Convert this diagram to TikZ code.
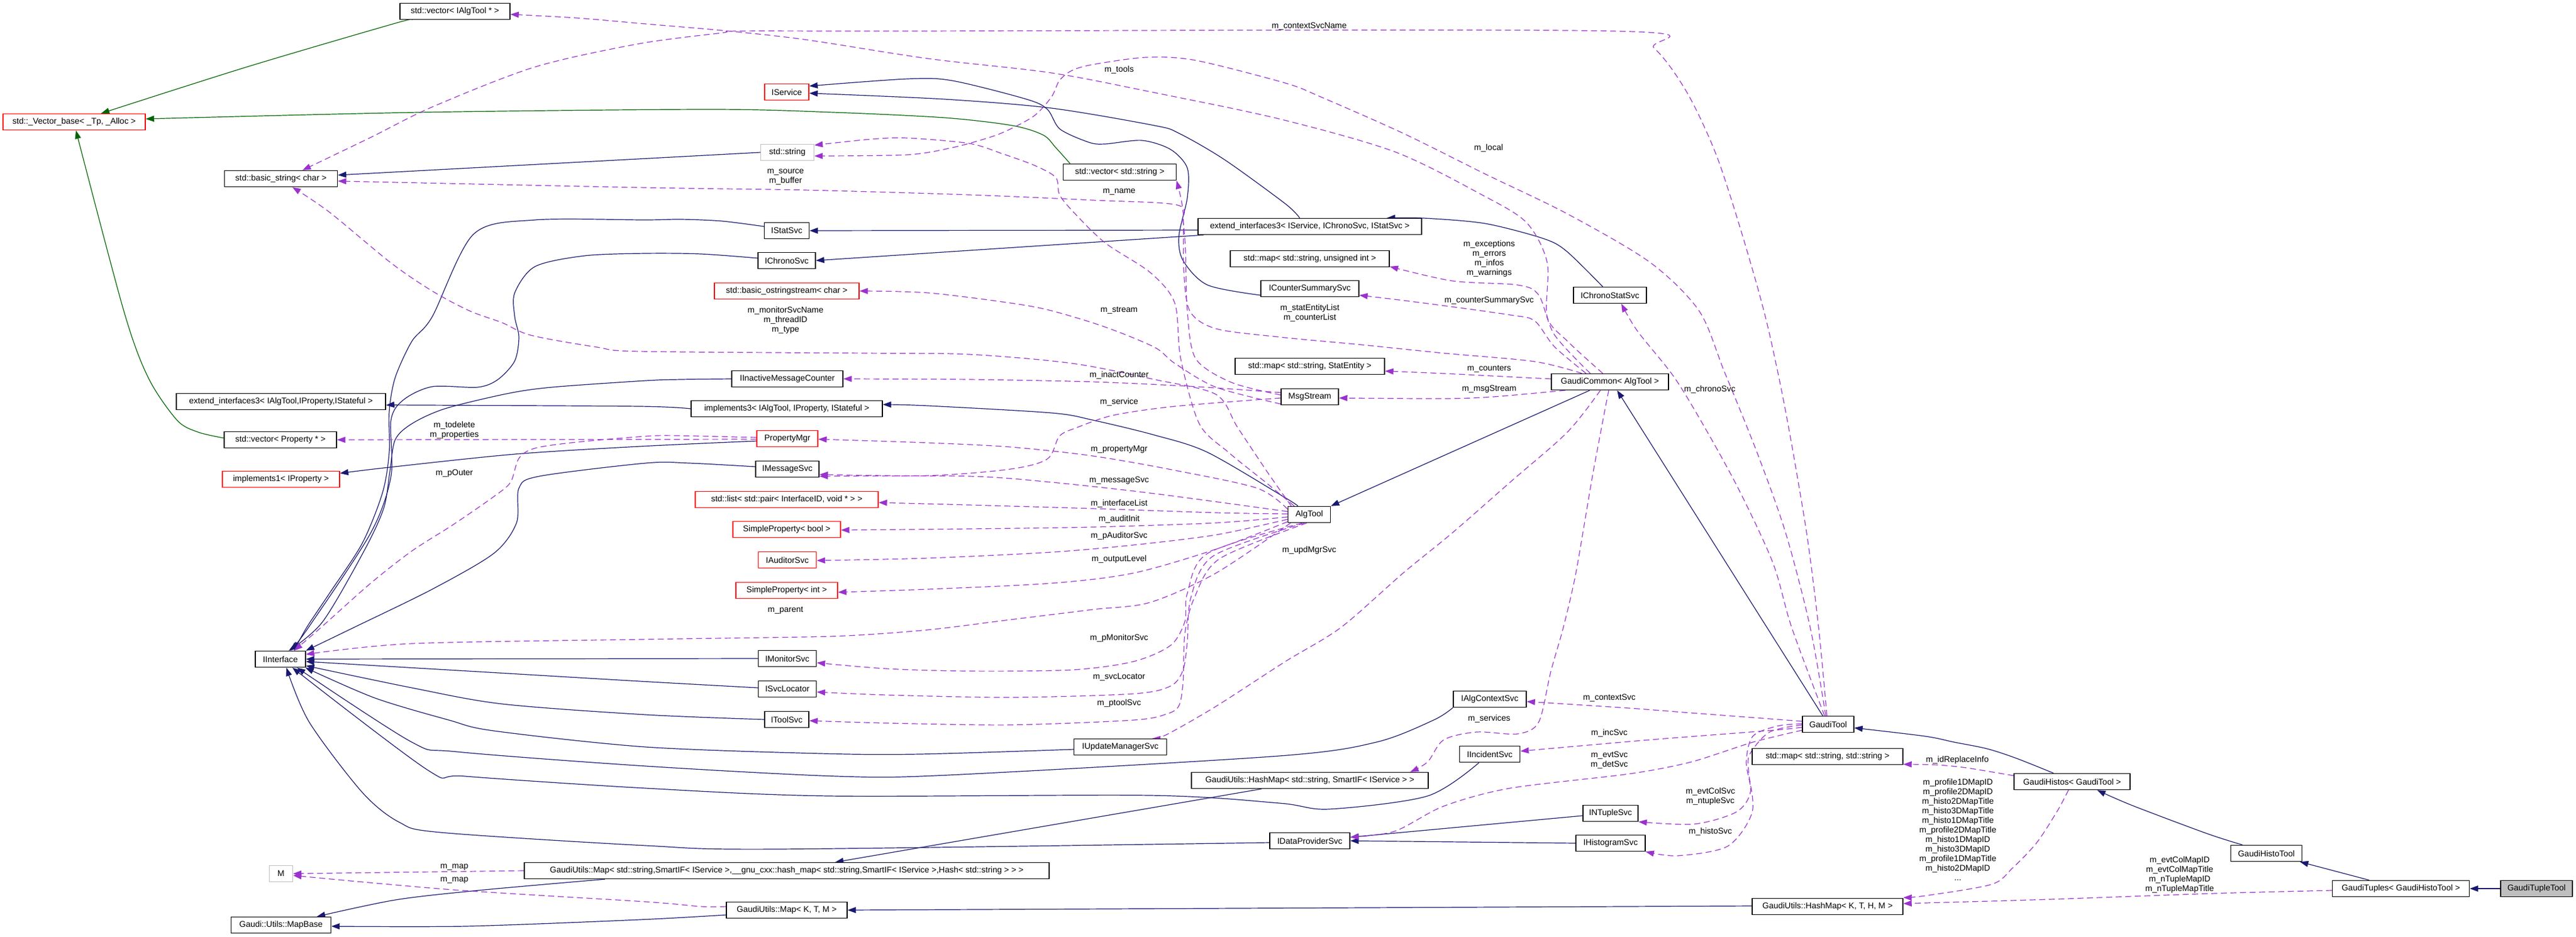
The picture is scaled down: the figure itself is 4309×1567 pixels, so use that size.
\documentclass[tikz,border=0pt]{standalone}
\usepackage{tikz}
\usepackage{fontspec}
\setmainfont{Liberation Sans}
\usetikzlibrary{arrows.meta}
\definecolor{inhc}{HTML}{191970}
\definecolor{protc}{HTML}{006400}
\definecolor{usec}{HTML}{9A32CD}
\definecolor{grayc}{HTML}{BFBFBF}
\pgfdeclarelayer{bglayer}
\pgfdeclarelayer{edgelayer}
\pgfsetlayers{bglayer,edgelayer,main}
\begin{document}
\begin{tikzpicture}[x=1pt,y=-1pt,
  every node/.style={font=\fontsize{14}{16}\selectfont, text=black},
  box/.style={draw=black, line width=1.4pt, fill=white, minimum width=#1pt, minimum height=27pt, inner sep=0pt},
  rbox/.style={box=#1, draw=red},
  gbox/.style={box=#1, draw=grayc},
  lbl/.style={align=center, inner sep=0pt},
  tip/.style={-{Triangle[length=14pt,width=10pt]}},
  inh/.style={draw=inhc, line width=1.2pt, tip},
  prot/.style={draw=protc, line width=1.2pt, tip},
  use/.style={draw=usec, line width=1.2pt, dash pattern=on 10pt off 6pt, tip},
  sm/.style={smooth, tension=0.5}
]
\begin{pgfonlayer}{bglayer}
\fill[white] (0,0) rectangle (4309,1567);
\end{pgfonlayer}
\useasboundingbox (0,0) rectangle (4309,1567);

% ---------------- nodes ----------------
\node[box=184] (vIAT) at (761,19) {std::vector< IAlgTool * >};
\node[rbox=238] (vbase) at (124,204) {std::\_Vector\_base< \_Tp, \_Alloc >};
\node[box=189] (bstr) at (470,299) {std::basic\_string< char >};
\node[rbox=74] (isvc) at (1316,154) {IService};
\node[gbox=89] (sstr) at (1317,255) {std::string};
\node[box=189] (vstr) at (1873,288) {std::vector< std::string >};
\node[box=374] (ext3s) at (2191,379) {extend\_interfaces3< IService, IChronoSvc, IStatSvc >};
\node[box=75] (istat) at (1316,386) {IStatSvc};
\node[box=96] (ichrono) at (1316,436) {IChronoSvc};
\node[rbox=242] (ostr) at (1316,487) {std::basic\_ostringstream< char >};
\node[box=266] (mapui) at (2191,433) {std::map< std::string, unsigned int >};
\node[box=164] (icsum) at (2191,483) {ICounterSummarySvc};
\node[box=122] (ichst) at (2693,494) {IChronoStatSvc};
\node[box=350] (ext3a) at (470,672) {extend\_interfaces3< IAlgTool,IProperty,IStateful >};
\node[box=188] (vprop) at (469,736) {std::vector< Property * >};
\node[rbox=196] (impl1) at (470,802) {implements1< IProperty >};
\node[box=186] (iimc) at (1317,634) {IInactiveMessageCounter};
\node[box=320] (impl3) at (1316,684) {implements3< IAlgTool, IProperty, IStateful >};
\node[rbox=102] (pmgr) at (1317,734) {PropertyMgr};
\node[box=106] (imsg) at (1317,785) {IMessageSvc};
\node[rbox=306] (ilist) at (1316,836) {std::list< std::pair< InterfaceID, void * > >};
\node[rbox=180] (spbool) at (1316,886) {SimpleProperty< bool >};
\node[rbox=97] (iaud) at (1317,937) {IAuditorSvc};
\node[rbox=170] (spint) at (1316,988) {SimpleProperty< int >};
\node[box=250] (mapse) at (2191,613) {std::map< std::string, StatEntity >};
\node[box=96] (msgs) at (2191,664) {MsgStream};
\node[box=196] (gcom) at (2693,639) {GaudiCommon< AlgTool >};
\node[box=71] (algt) at (2190,861) {AlgTool};
\node[box=84] (iint) at (469,1103) {IInterface};
\node[gbox=39] (mM) at (470,1462) {M};
\node[box=167] (mapb) at (470,1548) {Gaudi::Utils::MapBase};
\node[box=878] (gmaps) at (1316,1457) {GaudiUtils::Map< std::string,SmartIF< IService >,\_\_gnu\_cxx::hash\_map< std::string,SmartIF< IService >,Hash< std::string > > >};
\node[box=97] (imon) at (1317,1102) {IMonitorSvc};
\node[box=97] (isl) at (1317,1153) {ISvcLocator};
\node[box=74] (itool) at (1316,1204) {IToolSvc};
\node[box=155] (iupd) at (1874,1250) {IUpdateManagerSvc};
\node[box=396] (ghms) at (2191,1306) {GaudiUtils::HashMap< std::string, SmartIF< IService > >};
\node[box=202] (gmapk) at (1316,1523) {GaudiUtils::Map< K, T, M >};
\node[box=134] (idp) at (2191,1407) {IDataProviderSvc};
\node[box=122] (iac) at (2492,1170) {IAlgContextSvc};
\node[box=101] (iinc) at (2492,1262) {IIncidentSvc};
\node[box=92] (intup) at (2694,1361) {INTupleSvc};
\node[box=116] (ihist) at (2694,1411) {IHistogramSvc};
\node[box=86] (gtool) at (3058,1212) {GaudiTool};
\node[box=252] (mapss) at (3057,1266) {std::map< std::string, std::string >};
\node[box=252] (ghmk) at (3057,1517) {GaudiUtils::HashMap< K, T, H, M >};
\node[box=194] (ghist) at (3466,1308) {GaudiHistos< GaudiTool >};
\node[box=119] (ghtool) at (3791,1428) {GaudiHistoTool};
\node[box=229] (gtup) at (4016,1487) {GaudiTuples< GaudiHistoTool >};
\node[box=120, fill=grayc] (gtt) at (4243,1487) {GaudiTupleTool};

% ---------------- labels ----------------
\node[lbl] (l1) at (1872,117) {m\_tools};
\node[lbl] (l2) at (2190,44) {m\_contextSvcName};
\node[lbl] (l3) at (2490,248) {m\_local};
\node[lbl] (l4) at (1314,296) {m\_source\\m\_buffer};
\node[lbl] (l5) at (1872,321) {m\_name};
\node[lbl] (l6) at (2491,433) {m\_exceptions\\m\_errors\\m\_infos\\m\_warnings};
\node[lbl] (l7) at (2491,503) {m\_counterSummarySvc};
\node[lbl] (l8) at (1314,536) {m\_monitorSvcName\\m\_threadID\\m\_type};
\node[lbl] (l9) at (1872,519) {m\_stream};
\node[lbl] (l10) at (2191,524) {m\_statEntityList\\m\_counterList};
\node[lbl] (l11) at (2491,617) {m\_counters};
\node[lbl] (l12) at (1872,628) {m\_inactCounter};
\node[lbl] (l13) at (2491,651) {m\_msgStream};
\node[lbl] (l14) at (2860,652) {m\_chronoSvc};
\node[lbl] (l15) at (1872,673) {m\_service};
\node[lbl] (l16) at (760,720) {m\_todelete\\m\_properties};
\node[lbl] (l17) at (1872,752) {m\_propertyMgr};
\node[lbl] (l18) at (760,792) {m\_pOuter};
\node[lbl] (l19) at (1872,804) {m\_messageSvc};
\node[lbl] (l20) at (1872,843) {m\_interfaceList};
\node[lbl] (l21) at (1872,869) {m\_auditInit};
\node[lbl] (l22) at (1872,897) {m\_pAuditorSvc};
\node[lbl] (l23) at (2190,921) {m\_updMgrSvc};
\node[lbl] (l24) at (1872,936) {m\_outputLevel};
\node[lbl] (l25) at (1314,1021) {m\_parent};
\node[lbl] (l26) at (1872,1068) {m\_pMonitorSvc};
\node[lbl] (l27) at (1872,1133) {m\_svcLocator};
\node[lbl] (l28) at (1872,1177) {m\_ptoolSvc};
\node[lbl] (l29) at (2692,1168) {m\_contextSvc};
\node[lbl] (l30) at (2491,1203) {m\_services};
\node[lbl] (l31) at (2692,1227) {m\_incSvc};
\node[lbl] (l32) at (2692,1272) {m\_evtSvc\\m\_detSvc};
\node[lbl] (l33) at (3274,1272) {m\_idReplaceInfo};
\node[lbl] (l34) at (2861,1333) {m\_evtColSvc\\m\_ntupleSvc};
\node[lbl] (l35) at (2861,1392) {m\_histoSvc};
\node[lbl] (l36) at (3275,1388) {m\_profile1DMapID\\m\_profile2DMapID\\m\_histo2DMapTitle\\m\_histo3DMapTitle\\m\_histo1DMapTitle\\m\_profile2DMapTitle\\m\_histo1DMapID\\m\_histo3DMapID\\m\_profile1DMapTitle\\m\_histo2DMapID\\...};
\node[lbl] (l37) at (3646,1464) {m\_evtColMapID\\m\_evtColMapTitle\\m\_nTupleMapID\\m\_nTupleMapTitle};
\node[lbl] (l38) at (760,1451) {m\_map};
\node[lbl] (l39) at (760,1473) {m\_map};

% ---------------- edges ----------------
\begin{pgfonlayer}{edgelayer}
% protected inheritance
\draw[prot] plot[sm] coordinates {([xshift=-72pt]vIAT.south) (661,39) (413,112) ([xshift=45pt]vbase.north)};
\draw[prot] plot[sm] coordinates {([xshift=-83pt]vstr.north) (1766,247) (1745,226) (1693,210) (1580,197) (1394,188) (1185,183) (700,188) ([yshift=5pt]vbase.east)};
\draw[prot] plot[sm] coordinates {([yshift=3pt]vprop.west) (331,723) (296,703) (248,632) (207,520) ([xshift=3pt]vbase.south)};
% public inheritance
\draw[inh] (sstr.west) -- ([yshift=6pt]bstr.east);
\draw[inh] plot[sm] coordinates {([yshift=-11pt]icsum.west) (2020,477) (1979,436) (1972,395) (1986,331) (1986,281) (1958,250) (1910,235) (1848,241) (1821,238) (1773,216) (1752,183) (1717,166) (1593,135) (1518,132) ([yshift=10pt]isvc.east)};
\draw[inh] plot[sm] coordinates {([xshift=-17pt]ext3s.north) (2150,341) (2048,267) (1972,223) (1931,210) (1759,181) (1580,166) ([yshift=-2pt]isvc.east)};
\draw[inh] ([yshift=-6pt]ext3s.west) -- (istat.east);
\draw[inh] ([xshift=10pt]ext3s.south west) -- (ichrono.east);
\draw[inh] plot[sm] coordinates {([xshift=-12pt]ichst.north) (2620,420) (2581,399) (2484,374) (2381,365) ([xshift=-59pt]ext3s.north east)};
\draw[inh] plot[sm] coordinates {([yshift=7pt]istat.west) (1208,370) (1139,367) (1080,368) (895,368) (792,392) (723,530) (689,571) (661,632) (651,689) (651,757) (640,824) (606,909) (551,993) (513,1050) ([xshift=23pt]iint.north)};
\draw[inh] plot[sm] coordinates {([yshift=4pt]ichrono.west) (1173,425) (1080,424) (978,428) (895,446) (861,490) (861,530) (868,564) (861,604) (833,635) (799,648) (723,647) (675,669) (654,703) (654,797) (620,892) (516,1050) ([xshift=17pt]iint.north)};
\draw[inh] plot[sm] coordinates {(iimc.west) (1139,635) (1080,637) (923,648) (847,659) (744,684) (689,709) (661,736) (652,790) (642,850) (610,920) (540,1040) ([xshift=14pt]iint.north)};
\draw[inh] plot[sm] coordinates {([yshift=4pt]imsg.west) (1153,775) (1080,775) (902,797) (868,817) (864,875) (826,926) (723,986) (592,1050) (iint.north east)};
\draw[inh] plot[sm] coordinates {([yshift=-4pt]pmgr.west) (1070,747) (861,760) (651,782) ([yshift=10pt]impl1.east)};
\draw[inh] plot[sm] coordinates {(impl3.west) (1070,680) (709,678) ([yshift=-6pt]ext3a.east)};
\draw[inh] plot[sm] coordinates {([xshift=-19pt]algt.north) (2150,833) (2020,757) (1931,728) (1828,703) (1759,691) (1552,679) ([yshift=7pt]impl3.east)};
\draw[inh] ([xshift=65pt]gcom.south west) -- (algt.north east);
\draw[inh] ([xshift=-9pt]gtool.north) -- ([xshift=12pt]gcom.south);
\draw[inh] plot[sm] coordinates {([xshift=-31pt]ghist.north) (3373,1269) (3324,1253) (3269,1242) (3220,1232) ([yshift=-6pt]gtool.east)};
\draw[inh] plot[sm] coordinates {([xshift=-40pt]ghtool.north) (3692,1395) (3567,1348) ([xshift=42pt]ghist.south)};
\draw[inh] ([xshift=-53pt]gtup.north) -- ([xshift=-4pt]ghtool.south east);
\draw[inh] (gtt.west) -- (gtup.east);
\draw[inh] (imon.west) -- (iint.east);
\draw[inh] plot[sm] coordinates {([yshift=2pt]isl.west) (1070,1140) (800,1124) ([yshift=-4pt]iint.east)};
\draw[inh] plot[sm] coordinates {(itool.west) (1080,1196) (840,1178) (689,1151) ([yshift=-11pt]iint.east)};
\draw[inh] plot[sm] coordinates {([yshift=-4pt]iupd.west) (1538,1262) (1373,1261) (1080,1250) (826,1223) (751,1205) (627,1168) ([xshift=-1pt]iint.south east)};
\draw[inh] plot[sm] coordinates {(iac.south west) (2398,1205) (2302,1242) (2140,1265) (1587,1297) (1400,1299) (1080,1282) (764,1258) (689,1242) ([xshift=-15pt]iint.south east)};
\draw[inh] plot[sm] coordinates {([xshift=-18pt]iinc.south) (2388,1332) (2223,1354) (2140,1344) (1924,1331) (1387,1332) (1080,1319) (778,1299) (716,1289) ([xshift=20pt]iint.south)};
\draw[inh] plot[sm] coordinates {([yshift=-3pt]idp.west) (1297,1421) (1080,1415) (737,1393) (668,1376) (606,1326) (517,1208) ([xshift=10pt]iint.south)};
\draw[inh] ([yshift=-4pt]intup.west) -- ([yshift=6pt]idp.east);
\draw[inh] (ihist.west) -- (idp.east);
\draw[inh] ([xshift=-81pt]ghms.south) -- ([xshift=81pt]gmaps.north);
\draw[inh] plot[sm] coordinates {([xshift=-304pt]gmaps.south) (800,1490) (661,1506) ([xshift=60pt]mapb.north)};
\draw[inh] plot[sm] coordinates {([yshift=-8pt]gmapk.west) (1070,1539) (778,1550) ([yshift=-2pt]mapb.east)};
\draw[inh] ([yshift=1pt]ghmk.west) -- (gmapk.east);
% usage (dashed)
\draw[use] plot[sm] coordinates {([xshift=-12pt]gcom.north) (2622,571) (2588,530) (2588,439) (2553,372) (2477,325) (2333,254) (2140,199) (1931,155) (1759,122) (1552,98) (1345,66) (1208,51) (1080,40) (964,30) ([yshift=-5pt]vIAT.east)};
\draw[use] plot[sm] coordinates {([xshift=-4pt]gtool.north) (3028,1050) (2987,892) (2939,757) (2884,621) (2842,520) (2760,439) (2622,358) (2484,291) (2347,223) (2209,162) (2150,139) (2000,101) (1917,96) (1828,108) (1793,118) (1772,135) (1759,162) (1731,193) (1690,216) (1655,230) (1593,247) (1518,259) ([yshift=-6pt]sstr.east)};
\draw[use] plot[sm] coordinates {([xshift=-2pt]gtool.north) (3042,1050) (3022,892) (2987,689) (2953,530) (2911,382) (2870,257) (2822,155) (2767,81) (2698,52) (1500,52) (1235,52) (1208,55) (1070,73) (895,112) (723,179) (620,230) ([xshift=36pt]bstr.north)};
\draw[use] plot[sm] coordinates {([xshift=-6pt]gtool.north) (2997,1050) (2966,943) (2911,824) (2856,723) (2801,632) (2739,554) ([xshift=19pt]ichst.south)};
\draw[use] plot[sm] coordinates {([xshift=-47pt]gcom.north) (2567,605) (2415,591) (2278,577) (2140,564) (2034,550) (1990,520) (1980,450) (1979,355) ([xshift=95pt]vstr.south)};
\draw[use] plot[sm] coordinates {([xshift=-33pt]gcom.north) (2600,560) (2574,494) (2539,477) (2429,470) ([yshift=-13pt]mapui.east)};
\draw[use] plot[sm] coordinates {([xshift=-40pt]gcom.north) (2600,580) (2567,537) (2526,527) (2381,507) ([yshift=-11pt]icsum.east)};
\draw[use] plot[sm] coordinates {([yshift=5pt]gcom.west) (2553,632) (2415,625) ([yshift=-8pt]mapse.east)};
\draw[use] plot[sm] coordinates {([xshift=24pt]gcom.south west) (2498,664) (2415,667) ([yshift=-2pt]msgs.east)};
\draw[use] plot[sm] coordinates {([xshift=-16pt]gcom.south) (2622,723) (2526,807) (2429,892) (2347,959) (2243,1050) (2150,1107) (2034,1182) (1952,1229) ([xshift=53pt]iupd.north)};
\draw[use] plot[sm] coordinates {([xshift=-2pt]gcom.south) (2684,689) (2663,801) (2636,959) (2615,1050) (2594,1124) (2574,1208) (2539,1228) (2470,1225) (2415,1238) (2388,1275) ([xshift=168pt]ghms.north)};
\draw[use] plot[sm] coordinates {([yshift=5pt]gtool.west) (2829,1193) (2725,1185) ([yshift=-4pt]iac.east)};
\draw[use] plot[sm] coordinates {([yshift=-5pt]gtool.west) (2966,1222) (2760,1238) ([yshift=5pt]iinc.east)};
\draw[use] plot[sm] coordinates {([yshift=-10pt]gtool.west) (2932,1242) (2829,1275) (2725,1295) (2526,1319) (2415,1349) (2333,1391) ([yshift=6pt]idp.east)};
\draw[use] plot[sm] coordinates {([yshift=1pt]gtool.west) (2973,1215) (2932,1232) (2921,1275) (2928,1326) (2904,1359) (2834,1379) (intup.south east)};
\draw[use] plot[sm] coordinates {([yshift=-1pt]gtool.west) (2960,1225) (2927,1262) (2925,1292) (2931,1359) (2890,1416) (2806,1432) (ihist.south east)};
\draw[use] plot[sm] coordinates {([yshift=10pt]ghist.west) (3290,1285) (3240,1280) ([yshift=-13pt]mapss.east)};
\draw[use] plot[sm] coordinates {([xshift=-6pt]ghist.south) (3442,1356) (3407,1410) (3366,1453) (3331,1480) (3220,1499) ([yshift=15pt]ghmk.east)};
\draw[use] plot[sm] coordinates {([yshift=-3pt]gtup.west) (3706,1495) (3428,1505) (3220,1511) ([yshift=5pt]ghmk.east)};
\draw[use] (gmaps.west) -- (mM.east);
\draw[use] plot[sm] coordinates {([yshift=6pt]gmapk.west) (1173,1517) (1080,1509) (758,1489) ([yshift=-3pt]mM.east)};
\draw[use] ([yshift=-1pt]pmgr.west) -- (vprop.east);
\draw[use] plot[sm] coordinates {([yshift=2pt]pmgr.west) (1132,729) (1080,730) (964,740) (895,750) (868,767) (854,807) (826,831) (758,878) (689,922) (620,976) (537,1050) ([xshift=23pt]iint.north)};
\draw[use] plot[sm] coordinates {([yshift=7pt]msgs.west) (2000,647) (1828,639) (1621,635) (iimc.east)};
\draw[use] plot[sm] coordinates {([yshift=-2pt]msgs.west) (1965,680) (1862,695) (1800,716) (1772,730) (1752,768) (1690,785) (1552,796) ([yshift=-9pt]imsg.east)};
\draw[use] plot[sm] coordinates {([yshift=-12pt]msgs.west) (2034,648) (1965,608) (1931,581) (1848,547) (1759,520) (1690,507) (1552,490) (ostr.east)};
\draw[use] plot[sm] coordinates {([yshift=3pt]msgs.west) (2060,640) (2000,600) (1986,520) (1983,420) (1979,372) (1969,343) (1828,335) (1621,326) (1345,318) (1080,314) ([yshift=-4pt]bstr.east)};
\draw[use] plot[sm] coordinates {([xshift=-25pt]algt.north) (2117,807) (2055,757) (2006,709) (1975,600) (1965,507) (1924,456) (1848,406) (1793,352) (1772,325) (1766,297) (1731,277) (1676,257) (1621,240) (1518,231) (1456,233) ([yshift=12pt]sstr.east)};
\draw[use] plot[sm] coordinates {([xshift=-30pt]algt.north) (2120,790) (2070,715) (2034,660) (1931,635) (1793,608) (1621,593) (1449,591) (1070,588) (999,581) (888,561) (840,540) (785,520) (723,487) (654,440) (551,355) ([xshift=19pt]bstr.south)};
\draw[use] plot[sm] coordinates {([yshift=9pt]algt.west) (2103,817) (1965,787) (1828,763) (1690,748) (1552,741) ([yshift=-1pt]pmgr.east)};
\draw[use] plot[sm] coordinates {([yshift=5pt]algt.west) (1931,826) (1759,807) (1621,797) ([yshift=-12pt]imsg.east)};
\draw[use] plot[sm] coordinates {([yshift=1pt]algt.west) (2034,858) (1828,851) (1621,845) ([yshift=-5pt]ilist.east)};
\draw[use] plot[sm] coordinates {([yshift=-4pt]algt.west) (2034,875) (1828,882) (1621,885) ([yshift=-1pt]spbool.east)};
\draw[use] plot[sm] coordinates {([yshift=-8pt]algt.west) (2034,895) (1896,912) (1759,924) (1552,934) ([yshift=-1pt]iaud.east)};
\draw[use] plot[sm] coordinates {([yshift=-12pt]algt.west) (2034,919) (1896,959) (1759,976) (1552,986) ([yshift=-3pt]spint.east)};
\draw[use] plot[sm] coordinates {([xshift=5pt]algt.south west) (2034,959) (1924,1008) (1828,1020) (1690,1037) (1552,1054) (1414,1064) (1276,1067) (1070,1070) (689,1077) ([yshift=8pt]iint.east)};
\draw[use] plot[sm] coordinates {([xshift=-12pt]algt.south) (2020,926) (1986,993) (1982,1040) (1958,1080) (1896,1107) (1793,1121) (1621,1123) (1483,1119) ([yshift=-7pt]imon.east)};
\draw[use] plot[sm] coordinates {([xshift=-8pt]algt.south) (2030,930) (1992,1000) (1986,1074) (1979,1121) (1958,1148) (1896,1161) (1690,1167) (1483,1163) ([yshift=-5pt]isl.east)};
\draw[use] plot[sm] coordinates {([xshift=-4pt]algt.south) (2040,935) (1998,1000) (1982,1060) (1979,1141) (1972,1181) (1951,1195) (1896,1205) (1690,1213) (1483,1210) ([yshift=-2pt]itool.east)};
\end{pgfonlayer}
\end{tikzpicture}
\end{document}
